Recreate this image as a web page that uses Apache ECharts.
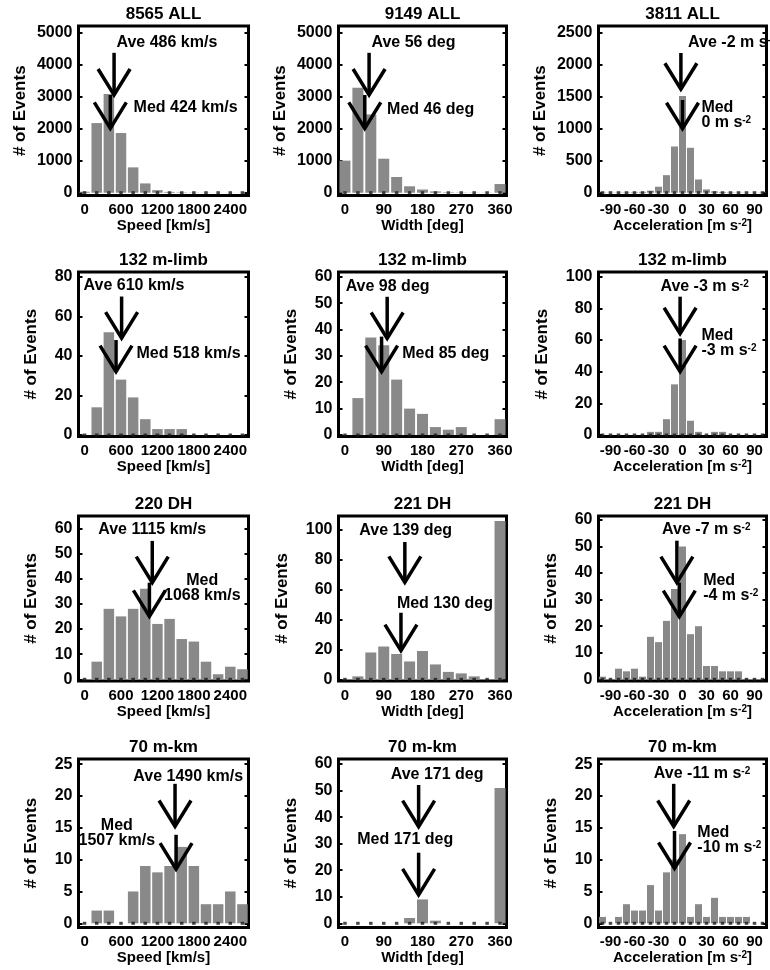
<!DOCTYPE html>
<html>
<head>
<meta charset="utf-8">
<script src="https://cdn.jsdelivr.net/npm/echarts@6/dist/echarts.min.js"></script>
<style>
html,body{margin:0;padding:0;background:#fff}
#chart{width:770px;height:970px}
</style>
</head>
<body>
<div id="chart"></div>
<script>
// histogram bin centres
var speedBins = [0, 200, 400, 600, 800, 1000, 1200, 1400, 1600, 1800, 2000, 2200, 2400, 2600];
var widthBins = [0, 30, 60, 90, 120, 150, 180, 210, 240, 270, 300, 330, 360];
var accelBins = [-100, -90, -80, -70, -60, -50, -40, -30, -20, -10, 0, 10, 20, 30, 40, 50, 60, 70, 80, 90, 100];

// counts per panel (row by row)
var speedAll  = [30, 2170, 3080, 1860, 790, 290, 80, 25, 12, 6, 4, 2, 2, 2];
var widthAll  = [1000, 3270, 2440, 1060, 490, 200, 100, 40, 15, 8, 5, 5, 270];
var accelAll  = [5, 3, 4, 6, 8, 12, 31, 93, 273, 720, 1507, 700, 206, 51, 20, 10, 6, 4, 3, 2, 5];
var speedLimb = [0, 14, 52, 28, 19, 8, 3, 3, 3, 0, 0, 0, 0, 0];
var widthLimb = [0, 14, 37, 34, 21, 10, 8, 3, 2, 3, 0, 0, 6];
var accelLimb = [0, 0, 0, 0, 0, 0, 2, 2, 10, 32, 60, 9, 2, 0, 2, 2, 0, 0, 0, 0, 0];
var speedDH   = [0, 7, 28, 25, 28, 36, 22, 24, 16, 15, 7, 2, 5, 4];
var widthDH   = [0, 2, 18, 22, 17, 12, 19, 10, 5, 4, 2, 0, 106];
var accelDH   = [1, 0, 4, 3, 4, 1, 16, 14, 22, 34, 50, 17, 20, 5, 5, 3, 3, 3, 0, 0, 0];
var speedMkm  = [0, 2, 2, 0, 5, 9, 8, 9, 12, 9, 3, 3, 5, 3];
var widthMkm  = [0, 0, 0, 0, 0, 2, 9, 1, 0, 0, 0, 0, 51];
var accelMkm  = [1, 0, 1, 3, 2, 2, 6, 2, 8, 10, 14, 1, 3, 1, 4, 1, 1, 1, 1, 0, 0];

var titles = ['8565 ALL', '9149 ALL', '3811 ALL', '132 m-limb', '132 m-limb', '132 m-limb',
              '220 DH', '221 DH', '221 DH', '70 m-km', '70 m-km', '70 m-km'];

// x tick labels
var speedTicks = [0, 600, 1200, 1800, 2400];
var widthTicks = [0, 90, 180, 270, 360];
var accelTicks = [-90, -60, -30, 0, 30, 60, 90];

// y tick labels
var yTicks5000 = [0, 1000, 2000, 3000, 4000, 5000];
var yTicks2500 = [0, 500, 1000, 1500, 2000, 2500];
var yTicks80 = [0, 20, 40, 60, 80];
var yTicks60 = [0, 10, 20, 30, 40, 50, 60];
var yTicks100 = [0, 20, 40, 60, 80, 100];
var yTicks25 = [0, 5, 10, 15, 20, 25];

// arrows: [x, shaft top y, tip y]
var arrowsSpeedAll = [[486, 4360, 3045], [424, 3045, 2007]];
var arrowsWidthAll = [[56, 4360, 3045], [46, 3045, 2007]];
var arrowsAccelAll = [[-2, 2177, 1612], [0, 1445, 997]];
var arrowsSpeedLimb = [[610, 70, 49], [518, 48, 32]];
var arrowsWidthLimb = [[98, 52.4, 36.6], [85, 37.3, 24]];
var arrowsAccelLimb = [[-3, 87.4, 64], [-3, 61, 40]];
var arrowsSpeedDH = [[1115, 55, 38.4], [1068, 38.4, 25]];
var arrowsWidthDH = [[139, 92, 65], [130, 44.6, 19.2]];
var arrowsAccelDH = [[-7, 52.2, 36.4], [-4, 36.4, 23.6]];
var arrowsSpeedMkm = [[1490, 21.9, 15.2], [1507, 13.9, 8.5]];
var arrowsWidthMkm = [[171, 52.1, 36.4], [171, 26.6, 10.7]];
var arrowsAccelMkm = [[-11, 21.9, 15.2], [-10, 14.5, 8.6]];

// annotation texts: [x, y, text, align]
var notesSpeedAll = [[1356, 4670, 'Ave 486 km/s', 'center'], [1664, 2660, 'Med 424 km/s', 'center']];
var notesWidthAll = [[159, 4675, 'Ave 56 deg', 'center'], [199, 2580, 'Med 46 deg', 'center']];
var notesAccelAll = [[7, 2338, 'Ave -2 m s{sup|-2}', 'left'], [23.6, 1211, 'Med\n0 m s{sup|-2}', 'left']];
var notesSpeedLimb = [[814, 75.3, 'Ave 610 km/s', 'center'], [1712, 41, 'Med 518 km/s', 'center']];
var notesWidthLimb = [[99, 56.2, 'Ave 98 deg', 'center'], [234, 30.7, 'Med 85 deg', 'center']];
var notesAccelLimb = [[-27.6, 93.7, 'Ave -3 m s{sup|-2}', 'left'], [23.6, 57.8, 'Med\n-3 m s{sup|-2}', 'left']];
var notesSpeedDH = [[1114, 59.3, 'Ave 1115 km/s', 'center'], [1939, 36.4, 'Med\n1068 km/s', 'center']];
var notesWidthDH = [[141, 99.5, 'Ave 139 deg', 'center'], [232, 51, 'Med 130 deg', 'center']];
var notesAccelDH = [[-25.5, 56.2, 'Ave -7 m s{sup|-2}', 'left'], [25.8, 34.4, 'Med\n-4 m s{sup|-2}', 'left']];
var notesSpeedMkm = [[1707, 23.1, 'Ave 1490 km/s', 'center'], [531, 14.1, 'Med\n1507 km/s', 'center']];
var notesWidthMkm = [[214, 56.2, 'Ave 171 deg', 'center'], [140, 31.4, 'Med 171 deg', 'center']];
var notesAccelMkm = [[-35.8, 23.5, 'Ave -11 m s{sup|-2}', 'left'], [18.5, 13, 'Med\n-10 m s{sup|-2}', 'left']];

var FONT = '"Liberation Sans", Arial, Helvetica, sans-serif';
var SUP = {sup: {fontSize: 10, fontWeight: 'bold', fontFamily: FONT, verticalAlign: 'top', lineHeight: 9}};

var kinds = {
  speed: {bins: speedBins, ticks: speedTicks, min: -100, max: 2700, name: 'Speed [km/s]', barW: 10.5},
  width: {bins: widthBins, ticks: widthTicks, min: -15, max: 375, name: 'Width [deg]', barW: 11},
  accel: {bins: accelBins, ticks: accelTicks, min: -105, max: 105, name: 'Acceleration [m s{sup|-2}]', barW: 7}
};

var panels = [
  {kind: 'speed', counts: speedAll,  yTicks: yTicks5000, yMin: -87, yMax: 5196, arrows: arrowsSpeedAll, notes: notesSpeedAll},
  {kind: 'width', counts: widthAll,  yTicks: yTicks5000, yMin: -87, yMax: 5196, arrows: arrowsWidthAll, notes: notesWidthAll},
  {kind: 'accel', counts: accelAll,  yTicks: yTicks2500, yMin: -44, yMax: 2598, arrows: arrowsAccelAll, notes: notesAccelAll},
  {kind: 'speed', counts: speedLimb, yTicks: yTicks80,   yMin: -0.76, yMax: 82.4, arrows: arrowsSpeedLimb, notes: notesSpeedLimb},
  {kind: 'width', counts: widthLimb, yTicks: yTicks60,   yMin: -0.57, yMax: 61.8, arrows: arrowsWidthLimb, notes: notesWidthLimb},
  {kind: 'accel', counts: accelLimb, yTicks: yTicks100,  yMin: -0.95, yMax: 103, arrows: arrowsAccelLimb, notes: notesAccelLimb},
  {kind: 'speed', counts: speedDH,   yTicks: yTicks60,   yMin: -0.68, yMax: 64.9, arrows: arrowsSpeedDH, notes: notesSpeedDH},
  {kind: 'width', counts: widthDH,   yTicks: yTicks100,  yMin: -1.1, yMax: 109.4, arrows: arrowsWidthDH, notes: notesWidthDH},
  {kind: 'accel', counts: accelDH,   yTicks: yTicks60,   yMin: -0.64, yMax: 61.5, arrows: arrowsAccelDH, notes: notesAccelDH},
  {kind: 'speed', counts: speedMkm,  yTicks: yTicks25,   yMin: -0.66, yMax: 25.8, arrows: arrowsSpeedMkm, notes: notesSpeedMkm},
  {kind: 'width', counts: widthMkm,  yTicks: yTicks60,   yMin: -1.58, yMax: 61.9, arrows: arrowsWidthMkm, notes: notesWidthMkm},
  {kind: 'accel', counts: accelMkm,  yTicks: yTicks25,   yMin: -0.66, yMax: 25.8, arrows: arrowsAccelMkm, notes: notesAccelMkm}
];

var colLeft = [78.5, 338.5, 598.5], colWidth = [170, 168, 168];
var rowTop = [26, 272, 516, 759], rowHeight = [169.5, 164.5, 165, 168.5];

function plain(v) { return String(v); }

function arrowRenderer(params, api) {
  var top = api.coord([api.value(0), api.value(1)]);
  var tip = api.coord([api.value(0), api.value(2)]);
  var st = {stroke: '#000', lineWidth: 3.5, fill: null, lineCap: 'butt', lineJoin: 'miter'};
  return {type: 'group', children: [
    {type: 'line', shape: {x1: top[0], y1: top[1], x2: tip[0], y2: tip[1]}, style: st},
    {type: 'polyline', shape: {points: [[tip[0] - 16, tip[1] - 26], [tip[0], tip[1]], [tip[0] + 16, tip[1] - 26]]}, style: st}
  ]};
}

function noteRenderer(notes) {
  return function (params, api) {
    var n = notes[params.dataIndex];
    var p = api.coord([n[0], n[1]]);
    return {type: 'text', x: p[0], y: p[1], style: {
      text: n[2], fill: '#000', font: 'bold 16px ' + FONT,
      align: n[3], verticalAlign: 'middle', lineHeight: 15, rich: SUP
    }};
  };
}

var grid = [], xAxis = [], yAxis = [], series = [], graphic = [];
panels.forEach(function (p, i) {
  var r = Math.floor(i / 3), c = i % 3, k = kinds[p.kind];
  var gap = {1: 39, 2: 39, 3: 48, 4: 50}[String(p.yTicks[p.yTicks.length - 1]).length];
  grid.push({left: colLeft[c], top: rowTop[r], width: colWidth[c], height: rowHeight[r],
    show: true, borderColor: '#000', borderWidth: 3, backgroundColor: 'transparent', containLabel: false});
  xAxis.push({type: 'value', gridIndex: i, min: k.min, max: k.max,
    axisLine: {show: false, onZero: false}, axisTick: {show: false}, splitLine: {show: false},
    axisLabel: {customValues: k.ticks, formatter: plain, hideOverlap: false, color: '#000',
      fontSize: 15, fontWeight: 'bold', fontFamily: FONT, margin: 7},
    name: k.name, nameLocation: 'middle', nameGap: 23,
    nameTextStyle: {color: '#000', fontSize: 15, fontWeight: 'bold', fontFamily: FONT, rich: SUP}});
  yAxis.push({type: 'value', gridIndex: i, min: p.yMin, max: p.yMax,
    axisLine: {show: false, onZero: false}, splitLine: {show: false},
    axisTick: {show: true, inside: true, length: 4, customValues: p.yTicks, lineStyle: {color: '#000', width: 2}},
    axisLabel: {customValues: p.yTicks, formatter: plain, hideOverlap: false, color: '#000',
      fontSize: 16, fontWeight: 'bold', fontFamily: FONT, margin: 6},
    name: '# of Events', nameLocation: 'middle', nameRotate: 90, nameGap: gap,
    nameTextStyle: {color: '#000', fontSize: 17, fontWeight: 'bold', fontFamily: FONT}});
  yAxis.push({type: 'value', gridIndex: i, min: p.yMin, max: p.yMax, position: 'right',
    axisLine: {show: false, onZero: false}, splitLine: {show: false}, axisLabel: {show: false},
    axisTick: {show: true, inside: true, length: 4, customValues: p.yTicks, lineStyle: {color: '#000', width: 2}}});
  series.push({type: 'bar', xAxisIndex: i, yAxisIndex: 2 * i, barWidth: k.barW, silent: true,
    itemStyle: {color: '#898989'},
    data: k.bins.map(function (b, j) { return [b, p.counts[j]]; })});
  series.push({type: 'scatter', xAxisIndex: i, yAxisIndex: 2 * i, symbol: 'rect', symbolSize: [3.5, 3], silent: true, z: 3,
    itemStyle: {color: '#1a1a1a'},
    data: k.bins.map(function (b) { return [b, 0]; })});
  series.push({type: 'custom', xAxisIndex: i, yAxisIndex: 2 * i, clip: false, silent: true, z: 4,
    renderItem: arrowRenderer, encode: {x: 0, y: 1}, data: p.arrows});
  series.push({type: 'custom', xAxisIndex: i, yAxisIndex: 2 * i, clip: false, silent: true, z: 5,
    renderItem: noteRenderer(p.notes), encode: {x: 0, y: 1},
    data: p.notes.map(function (n) { return [n[0], n[1]]; })});
  graphic.push({type: 'text', x: colLeft[c] + colWidth[c] / 2, y: rowTop[r] - 12,
    style: {text: titles[i], font: 'bold 17px ' + FONT, fill: '#000', textAlign: 'center', textVerticalAlign: 'middle'}});
});

var chart = echarts.init(document.getElementById('chart'));
chart.setOption({
  animation: false,
  backgroundColor: '#fff',
  grid: grid, xAxis: xAxis, yAxis: yAxis, series: series, graphic: graphic
});
</script>
</body>
</html>
